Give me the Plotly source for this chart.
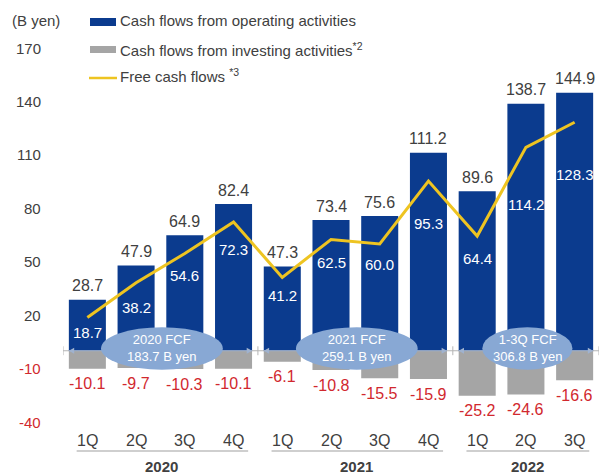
import plotly.graph_objects as go

# ---- data ----
quarters = ['1Q', '2Q', '3Q', '4Q', '1Q', '2Q', '3Q', '4Q', '1Q', '2Q', '3Q']
years = ['2020', '2021', '2022']
year_sizes = [4, 4, 3]
operating = [28.7, 47.9, 64.9, 82.4, 47.3, 73.4, 75.6, 111.2, 89.6, 138.7, 144.9]
investing = [-10.1, -9.7, -10.3, -10.1, -6.1, -10.8, -15.5, -15.9, -25.2, -24.6, -16.6]
fcf = [18.7, 38.2, 54.6, 72.3, 41.2, 62.5, 60.0, 95.3, 64.4, 114.2, 128.3]
annual_fcf = ['2020 FCF<br>183.7 B yen', '2021 FCF<br>259.1 B yen', '1-3Q FCF<br>306.8 B yen']
y_ticks = [170, 140, 110, 80, 50, 20, -10, -40]

# ---- styles ----
FONT = 'Liberation Sans, Arial, sans-serif'
BLUE = '#0b3b8e'
GRAY = '#a5a5a5'
YELLOW = '#eec421'
RED = '#d1282e'
TXT = '#404040'
ELL = '#88a8d4'
ARROW = '#9fb2cf'
fcf_label_shift = [-15, -25, -22, -27, -18, -23, -21, -42, -22, -57, -52]
ellipse_width = [2.5, 2.5, 1.85]
BAR_W = 0.76

idx = list(range(len(quarters)))

fig = go.Figure()
fig.add_trace(go.Bar(x=idx, y=operating, marker_color=BLUE, width=BAR_W,
                     marker_line_width=0, hoverinfo='skip'))
fig.add_trace(go.Bar(x=idx, y=investing, marker_color=GRAY, width=BAR_W,
                     marker_line_width=0, hoverinfo='skip'))
fig.add_trace(go.Scatter(x=idx, y=fcf, mode='lines',
                         line=dict(color=YELLOW, width=3), hoverinfo='skip'))

PLOT_H = 474 - 48 - 52
shapes = []
ann = []

# zero line and group ticks
shapes.append(dict(type='line', xref='x', yref='y', x0=-0.5, x1=len(idx) - 0.5,
                   y0=0, y1=0, line=dict(color='#b5b5b5', width=1), layer='below'))
bounds = [-0.5]
s = 0
for n in year_sizes:
    s += n
    bounds.append(s - 0.5)
for b in bounds:
    shapes.append(dict(type='line', xref='x', yref='y', x0=b, x1=b, y0=-2.5, y1=2.5,
                       line=dict(color='#b5b5b5', width=1)))

underline_y = -(451 - (474 - 52)) / PLOT_H
AH_X, AH_Y = 0.11, 1.7  # arrowhead half-size in data units

start = 0
for g, n in enumerate(year_sizes):
    first, last = start, start + n - 1
    mid = (first + last) / 2
    xl, xr = first - BAR_W / 2, last + BAR_W / 2
    # double-headed arrow along zero line
    shapes.append(dict(type='line', xref='x', yref='y', x0=xl, x1=xr, y0=0, y1=0,
                       line=dict(color=ARROW, width=1)))
    shapes.append(dict(type='path', xref='x', yref='y',
                       path=f'M{xl},0 L{xl + AH_X},{AH_Y} L{xl + AH_X},{-AH_Y} Z',
                       fillcolor=ARROW, line=dict(width=0)))
    shapes.append(dict(type='path', xref='x', yref='y',
                       path=f'M{xr},0 L{xr - AH_X},{AH_Y} L{xr - AH_X},{-AH_Y} Z',
                       fillcolor=ARROW, line=dict(width=0)))
    # ellipse with annual FCF
    w = ellipse_width[g]
    shapes.append(dict(type='circle', xref='x', yref='y',
                       x0=mid + 0.03 - w / 2, x1=mid + 0.03 + w / 2, y0=-10.6, y1=13.2,
                       fillcolor=ELL, line=dict(width=0), layer='above'))
    ann.append(dict(x=mid + 0.03, y=1.3, xref='x', yref='y', text=annual_fcf[g],
                    showarrow=False, font=dict(family=FONT, size=13, color='white'),
                    yanchor='middle'))
    # underline and year label
    shapes.append(dict(type='line', xref='x', yref='paper', x0=first - 0.22, x1=last + 0.3,
                       y0=underline_y, y1=underline_y,
                       line=dict(color='#a0a0a0', width=1.2)))
    ann.append(dict(x=mid + 0.03, y=0, xref='x', yref='paper', text='<b>' + years[g] + '</b>',
                    showarrow=False, yanchor='middle', yshift=-44,
                    font=dict(family=FONT, size=15, color=TXT)))
    start += n

for i in idx:
    ann.append(dict(x=i, y=operating[i], xref='x', yref='y', text=f'{operating[i]:.1f}',
                    showarrow=False, yanchor='middle', yshift=14,
                    font=dict(family=FONT, size=16, color=TXT)))
    ann.append(dict(x=i, y=investing[i], xref='x', yref='y', text=f'{investing[i]:.1f}',
                    showarrow=False, yanchor='middle', yshift=-15,
                    font=dict(family=FONT, size=16, color=RED)))
    ann.append(dict(x=i, y=fcf[i], xref='x', yref='y', text=f'{fcf[i]:.1f}',
                    showarrow=False, yanchor='middle', yshift=fcf_label_shift[i],
                    font=dict(family=FONT, size=15, color='white')))
    ann.append(dict(x=i, y=0, xref='x', yref='paper', text=quarters[i],
                    showarrow=False, yanchor='middle', yshift=-18,
                    font=dict(family=FONT, size=16, color=TXT)))

for t in y_ticks:
    ann.append(dict(x=0, y=t, xref='paper', yref='y', text=str(t), showarrow=False,
                    xanchor='right', yanchor='middle', xshift=-20,
                    font=dict(family=FONT, size=15, color=RED if t < 0 else TXT)))

# unit label and legend (paper coords from pixels)
def px(xp):
    return (xp - 63) / (602 - 63 - 3)

def py(yp):
    return (474 - 52 - yp) / PLOT_H

ann.append(dict(x=px(10), y=py(21), xref='paper', yref='paper', text='(B yen)',
                showarrow=False, xanchor='left', yanchor='middle',
                font=dict(family=FONT, size=15, color=TXT)))
legend_items = [('Cash flows from operating activities', 21),
                ('Cash flows from investing activities<sup>*2</sup>', 49),
                ('Free cash flows <sup>*3</sup>', 76)]
shapes.append(dict(type='rect', xref='paper', yref='paper', x0=px(90), x1=px(116),
                   y0=py(26), y1=py(18), fillcolor=BLUE, line=dict(width=0)))
shapes.append(dict(type='rect', xref='paper', yref='paper', x0=px(90), x1=px(116),
                   y0=py(53), y1=py(46), fillcolor=GRAY, line=dict(width=0)))
shapes.append(dict(type='line', xref='paper', yref='paper', x0=px(89), x1=px(117),
                   y0=py(78), y1=py(78), line=dict(color=YELLOW, width=2.5)))
for text, yp in legend_items:
    ann.append(dict(x=px(118), y=py(yp), xref='paper', yref='paper', text=text,
                    showarrow=False, xanchor='left', yanchor='middle',
                    font=dict(family=FONT, size=15, color=TXT)))

fig.update_layout(
    width=602, height=474,
    margin=dict(l=63, r=3, t=48, b=52),
    paper_bgcolor='white', plot_bgcolor='white',
    barmode='relative', showlegend=False,
    xaxis=dict(range=[-0.5, len(idx) - 0.5], showticklabels=False, showgrid=False,
               zeroline=False, showline=False, fixedrange=True),
    yaxis=dict(range=[-40, 170], showticklabels=False, showgrid=False,
               zeroline=False, showline=False, fixedrange=True),
    shapes=shapes, annotations=ann,
    font=dict(family=FONT),
)
fig.write_html('out.html')
